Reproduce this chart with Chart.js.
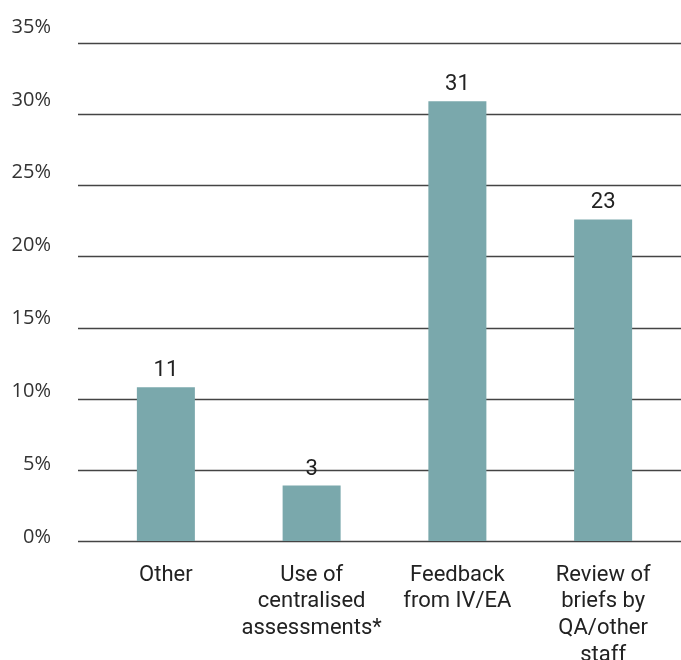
<!DOCTYPE html>
<html>
<head>
<meta charset="utf-8">
<script src="https://cdn.jsdelivr.net/npm/chart.js@4"></script>
<style>
  html, body { margin: 0; padding: 0; background: #fff; }
  #chart { display: block; }
</style>
</head>
<body>
<canvas id="chart" width="681" height="660"></canvas>
<script>
// categories (multi-line labels)
categories = [
  ['Other'],
  ['Use of', 'centralised', 'assessments*'],
  ['Feedback', 'from IV/EA'],
  ['Review of', 'briefs by', 'QA/other', 'staff']
];
// bar heights in percent
shares = [10.8, 3.9, 30.9, 22.6];
// numbers printed above the bars
counts = ['11', '3', '31', '23'];
// y axis ticks
tickValues = [0, 5, 10, 15, 20, 25, 30, 35];

//gridlines, y labels and bar labels drawn with the chart's own scales
extras = {
  id: 'extras',
  beforeDatasetsDraw(chart) {
    var ctx = chart.ctx;
    var y = chart.scales.y;
    ctx.save();
    ctx.strokeStyle = '#444';
    ctx.lineWidth = 1.4;
    tickValues.forEach(v => {
      var py = Math.round(y.getPixelForValue(v)) + 0.5;
      ctx.beginPath();
      ctx.moveTo(78, py);
      ctx.lineTo(681, py);
      ctx.stroke();
    });
    ctx.fillStyle = '#333';
    ctx.font = '20px "Open Sans"';
    ctx.textAlign = 'right';
    ctx.textBaseline = 'middle';
    tickValues.forEach(v => {
      var py = y.getPixelForValue(v) - 4 - 12 * v / 35;
      ctx.fillText(v + '%', 51, py);
    });
    ctx.restore();
  },
  afterDatasetsDraw(chart) {
    var ctx = chart.ctx;
    var meta = chart.getDatasetMeta(0);
    ctx.save();
    ctx.fillStyle = '#222';
    ctx.font = '22px Roboto';
    ctx.textAlign = 'center';
    ctx.textBaseline = 'alphabetic';
    meta.data.forEach((bar, i) => {
      ctx.fillText(counts[i], bar.x, bar.y - 11);
    });
    ctx.restore();
  }
};

config = {
  type: 'bar',
  data: {
    labels: categories,
    datasets: [{
      data: shares,
      backgroundColor: '#7aa8ac',
      borderWidth: 0,
      categoryPercentage: 1,
      barPercentage: 0.398
    }]
  },
  options: {
    responsive: false,
    animation: false,
    devicePixelRatio: 1,
    layout: { padding: { left: 93, right: 5, top: 43, bottom: 0 } },
    plugins: {
      legend: { display: false },
      tooltip: { enabled: false }
    },
    scales: {
      x: {
        grid: { display: false, drawTicks: false },
        border: { display: false },
        ticks: {
          color: '#222',
          font: { family: 'Roboto', size: 22, lineHeight: 1.21 },
          padding: 21,
          maxRotation: 0,
          autoSkip: false
        },
        afterFit(scale) { scale.height = 119; }
      },
      y: {
        display: false,
        min: 0,
        max: 35
      }
    }
  },
  plugins: [extras]
};

var myChart = new Chart(document.getElementById('chart'), config);
</script>
</body>
</html>
